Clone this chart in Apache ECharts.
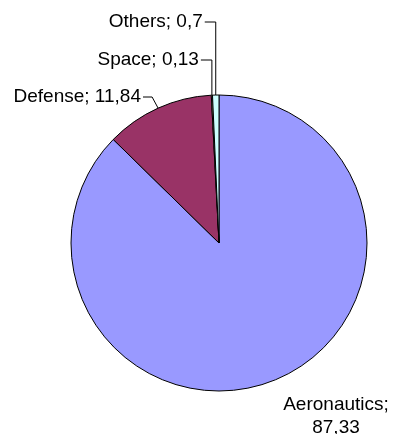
<!DOCTYPE html>
<html>
<head>
<meta charset="utf-8">
<script src="https://cdn.jsdelivr.net/npm/echarts@6/dist/echarts.min.js"></script>
<style>
  html, body { margin: 0; padding: 0; background: #fff; }
  #chart { width: 394px; height: 434px; }
</style>
</head>
<body>
<div id="chart"></div>
<script>
const names = ['Aeronautics', 'Defense', 'Space', 'Others']
const values = [87.33, 11.84, 0.13, 0.7]
const colors = ['#9999ff', '#993366', '#ffffcc', '#ccffff']

const chart = echarts.init(document.getElementById('chart'), null, { renderer: 'canvas' })

// comma as decimal separator, like the original
const fmt = v => String(v).replace('.', ',')

const option = {
  animation: false,
  backgroundColor: '#fff',
  series: [{
    type: 'pie',
    center: [219, 243],
    radius: 148,
    startAngle: 90,
    clockwise: true,
    avoidLabelOverlap: false,
    itemStyle: {
      borderColor: '#000',
      borderWidth: 1
    },
    label: {
      show: true,
      position: 'outside',
      color: '#000',
      fontFamily: 'Liberation Sans, Arial, sans-serif',
      fontSize: 19,
      lineHeight: 23,
      formatter: p => p.dataIndex === 0
        ? p.name + ';\n' + fmt(p.value)
        : p.name + '; ' + fmt(p.value)
    },
    labelLine: {
      show: true,
      length: 10,
      length2: 10,
      lineStyle: { color: '#000', width: 1 }
    },
    labelLayout: function (params) {
      const i = params.dataIndex
      const p0 = params.labelLinePoints ? params.labelLinePoints[0] : [219, 95]
      if (i === 0) {
        return { x: 336, y: 416, align: 'center', verticalAlign: 'middle' }
      }
      if (i === 1) {
        const y = 97
        return {
          x: 141, y, align: 'right', verticalAlign: 'middle',
          labelLinePoints: [p0, [p0[0] - 6, y], [143, y]]
        }
      }
      // Space / Others: straight up, then left to the text
      const y = i === 2 ? 60 : 22
      return {
        x: p0[0] - 13, y, align: 'right', verticalAlign: 'middle',
        labelLinePoints: [p0, [p0[0], y], [p0[0] - 11, y]]
      }
    },
    data: names.map((n, i) => ({
      name: n,
      value: values[i],
      itemStyle: { color: colors[i] },
      labelLine: { show: i !== 0 }
    }))
  }]
}

chart.setOption(option)
</script>
</body>
</html>
